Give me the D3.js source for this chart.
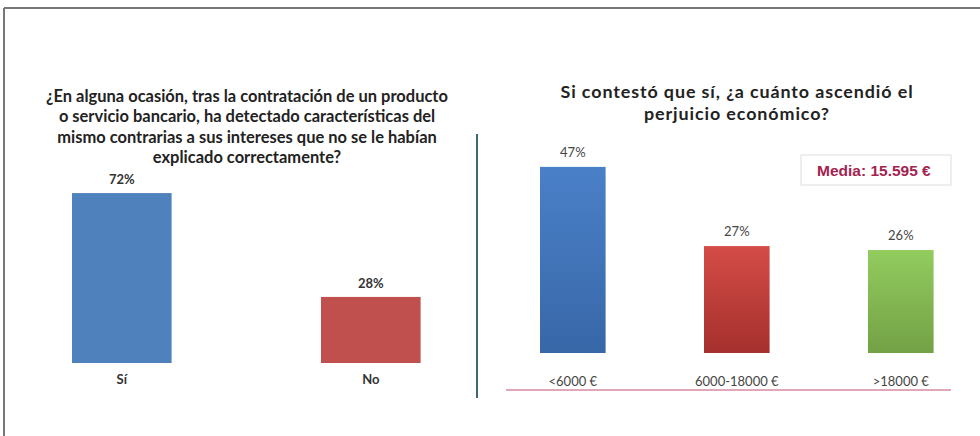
<!DOCTYPE html>
<html><head><meta charset="utf-8">
<script src="https://cdn.jsdelivr.net/npm/d3@7"></script>
<style>html,body{margin:0;padding:0;background:#fff;}svg{display:block;}</style>
</head><body>
<script>
const leftTitle = ["¿En alguna ocasión, tras la contratación de un producto","o servicio bancario, ha detectado características del","mismo contrarias a sus intereses que no se le habían","explicado correctamente?"];
const leftCategories = ["Sí","No"];
const leftValues = [72, 28];
const leftColors = ["#4f81bd","#c0504d"];

const rightTitle = ["Si contestó que sí, ¿a cuánto ascendió el","perjuicio económico?"];
const rightCategories = ["<6000 €","6000-18000 €",">18000 €"];
const rightValues = [47, 27, 26];
const rightColorsTop = ["#4a80c8","#d44c47","#92cc5e"];
const rightColorsBottom = ["#3867a8","#a5302d","#73a146"];
const mediaText = "Media: 15.595 €";

const W = 980, H = 436;
const svg = d3.select("body").append("svg").attr("width", W).attr("height", H);
const font = "Lato, 'Open Sans', sans-serif";

// frame
svg.append("line").attr("x1",4).attr("x2",W).attr("y1",8).attr("y2",8).attr("stroke","#777").attr("stroke-width",2);
svg.append("line").attr("x1",4).attr("x2",4).attr("y1",8).attr("y2",H).attr("stroke","#777").attr("stroke-width",2);

function fitText(sel, target){
  sel.each(function(){
    const len = this.getComputedTextLength();
    if (len > 0) { const fs = parseFloat(d3.select(this).attr("font-size")); d3.select(this).attr("font-size", fs*target/len); }
  });
}

// ---- Left chart ----
const lt = svg.append("g");
lt.selectAll("text").data(leftTitle).join("text")
  .attr("x",247).attr("y",(d,i)=>102+i*20.3).attr("text-anchor","middle")
  .attr("font-family",font).attr("font-weight","bold").attr("font-size",14).attr("fill","#222").text(d=>d);
fitText(lt.select("text"), 402);
lt.selectAll("text").attr("font-size", lt.select("text").attr("font-size"));

const xL = d3.scaleBand().domain(leftCategories).range([-2.7, 495.3]).paddingInner(0.6).paddingOuter(0.3);
const yL = d3.scaleLinear().domain([0,100]).range([363, 363-236]);
const gl = svg.append("g");
gl.selectAll("rect").data(leftValues).join("rect")
  .attr("x",(d,i)=>xL(leftCategories[i])).attr("width",xL.bandwidth())
  .attr("y",d=>yL(d)).attr("height",d=>yL(0)-yL(d)).attr("fill",(d,i)=>leftColors[i]);
gl.selectAll("text.v").data(leftValues).join("text").attr("class","v")
  .attr("x",(d,i)=>xL(leftCategories[i])+xL.bandwidth()/2).attr("y",d=>yL(d)-9)
  .attr("text-anchor","middle").attr("font-family",font).attr("font-weight","bold").attr("font-size",13).attr("fill","#333")
  .text(d=>d+"%");
const axL = d3.axisBottom(xL).tickSize(0).tickPadding(0);
const gAxL = svg.append("g").attr("transform","translate(0,375)").call(axL);
gAxL.select(".domain").remove();
gAxL.selectAll("text").attr("font-family",font).attr("font-weight","bold").attr("font-size",13).attr("fill","#333");

// divider
svg.append("line").attr("x1",477).attr("x2",477).attr("y1",134).attr("y2",398).attr("stroke","#3d6678").attr("stroke-width",2);

// ---- Right chart ----
const rt = svg.append("g");
rt.selectAll("text").data(rightTitle).join("text")
  .attr("x",737).attr("y",(d,i)=>98+i*21.6).attr("text-anchor","middle")
  .attr("font-family",font).attr("font-weight","bold").attr("font-size",17.9).attr("fill","#222").text(d=>d);
const firstLen = rt.select("text").node().getComputedTextLength();
const ls = Math.max(0, (353 - firstLen) / rightTitle[0].length);
rt.selectAll("text").attr("letter-spacing", ls);

const defs = svg.append("defs");
rightColorsTop.forEach((c,i)=>{
  const g = defs.append("linearGradient").attr("id","gr"+i).attr("x1",0).attr("x2",0).attr("y1",0).attr("y2",1);
  g.append("stop").attr("offset","0%").attr("stop-color",c);
  g.append("stop").attr("offset","100%").attr("stop-color",rightColorsBottom[i]);
});

const xR = d3.scaleBand().domain(rightCategories).range([490.8, 982.8]).paddingInner(0.6).paddingOuter(0.3);
const yR = d3.scaleLinear().domain([0,100]).range([353, 353-396]);
const gr = svg.append("g");
gr.selectAll("rect").data(rightValues).join("rect")
  .attr("x",(d,i)=>xR(rightCategories[i])).attr("width",xR.bandwidth())
  .attr("y",d=>yR(d)).attr("height",d=>yR(0)-yR(d)).attr("fill",(d,i)=>`url(#gr${i})`);
gr.selectAll("text.v").data(rightValues).join("text").attr("class","v")
  .attr("x",(d,i)=>xR(rightCategories[i])+xR.bandwidth()/2).attr("y",d=>yR(d)-10)
  .attr("text-anchor","middle").attr("font-family",font).attr("font-size",13).attr("fill","#444")
  .text(d=>d+"%");
const axR = d3.axisBottom(xR).tickSize(0).tickPadding(0);
const gAxR = svg.append("g").attr("transform","translate(0,377)").call(axR);
gAxR.select(".domain").remove();
gAxR.selectAll("text").attr("font-family",font).attr("font-size",13).attr("fill","#444");

svg.append("line").attr("x1",506).attr("x2",951).attr("y1",390).attr("y2",390).attr("stroke","#d48aa0").attr("stroke-width",1.5);

// media box
svg.append("rect").attr("x",801).attr("y",155).attr("width",150).attr("height",30)
  .attr("fill","#fff").attr("stroke","#ddd").attr("stroke-width",1);
svg.append("text").attr("x",817).attr("y",176).attr("font-family","'Liberation Sans', Arial, sans-serif")
  .attr("font-weight","bold").attr("font-size",15.5).attr("fill","#a3234f").text(mediaText);
</script>
</body></html>
